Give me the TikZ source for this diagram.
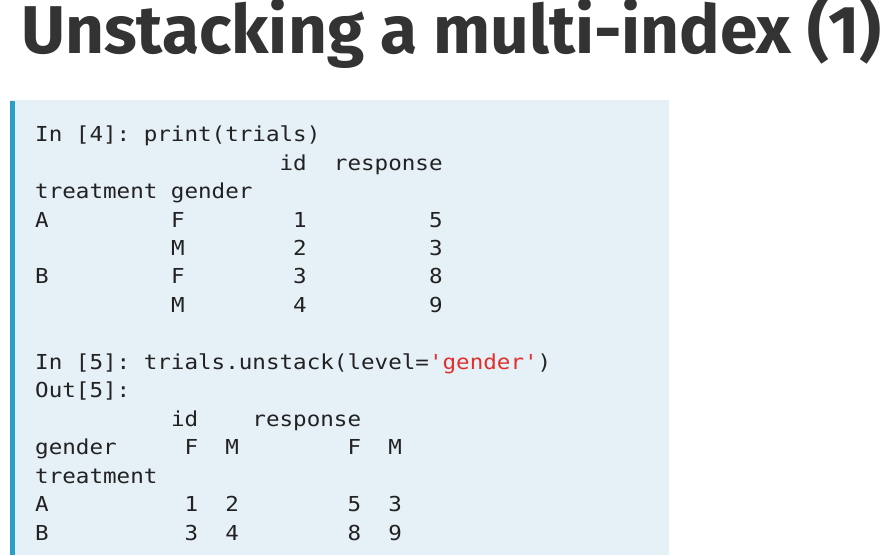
\documentclass[tikz,border=0pt]{standalone}
\usepackage{fontspec}
\setmainfont{Fira Sans}
\newfontfamily\codefont[FakeStretch=1.095]{DejaVu Sans Mono}
\newfontfamily\titlefont{Fira Sans}
\definecolor{titlegray}{HTML}{333333}
\definecolor{codebg}{HTML}{E6F0F7}
\definecolor{barblue}{HTML}{2B9DC9}
\definecolor{codetext}{HTML}{222222}
\definecolor{strred}{HTML}{E2302C}
\begin{document}
\begin{tikzpicture}[x=1pt,y=-1pt,
  codeline/.style={anchor=base west,inner sep=0pt,text=codetext,
    font=\codefont\fontsize{20.6}{28.45}\selectfont\frenchspacing},
  titletext/.style={anchor=base west,inner sep=0pt,text=titlegray,
    font=\titlefont\bfseries\fontsize{67.6}{80}\selectfont}]
\useasboundingbox (0,0) rectangle (888,555);
\fill[white] (0,0) rectangle (888,555);
% title
\node[titletext] (title) at (21,53.3) {Unstacking a multi-index (1)};
% code box
\fill[codebg] (10,100) rectangle (669,555);
\fill[barblue] (10,101) rectangle (15,555);
% code lines
\def\lx{35}
\node[codeline] (l1)  at (\lx,141.7) {In [4]: print(trials)};
\node[codeline] (l2)  at (\lx,170.15) {~~~~~~~~~~~~~~~~~~id~~response};
\node[codeline] (l3)  at (\lx,198.6) {treatment gender};
\node[codeline] (l4)  at (\lx,227.05) {A~~~~~~~~~F~~~~~~~~1~~~~~~~~~5};
\node[codeline] (l5)  at (\lx,255.5) {~~~~~~~~~~M~~~~~~~~2~~~~~~~~~3};
\node[codeline] (l6)  at (\lx,283.95) {B~~~~~~~~~F~~~~~~~~3~~~~~~~~~8};
\node[codeline] (l7)  at (\lx,312.4) {~~~~~~~~~~M~~~~~~~~4~~~~~~~~~9};
\node[codeline] (l9)  at (\lx,369.3) {In [5]: trials.unstack(level=\textcolor{strred}{'gender'})};
\node[codeline] (l10) at (\lx,397.75) {Out[5]:};
\node[codeline] (l11) at (\lx,426.2) {~~~~~~~~~~id~~~~response};
\node[codeline] (l12) at (\lx,454.65) {gender~~~~~F~~M~~~~~~~~F~~M};
\node[codeline] (l13) at (\lx,483.1) {treatment};
\node[codeline] (l14) at (\lx,511.55) {A~~~~~~~~~~1~~2~~~~~~~~5~~3};
\node[codeline] (l15) at (\lx,540) {B~~~~~~~~~~3~~4~~~~~~~~8~~9};
\end{tikzpicture}
\end{document}
